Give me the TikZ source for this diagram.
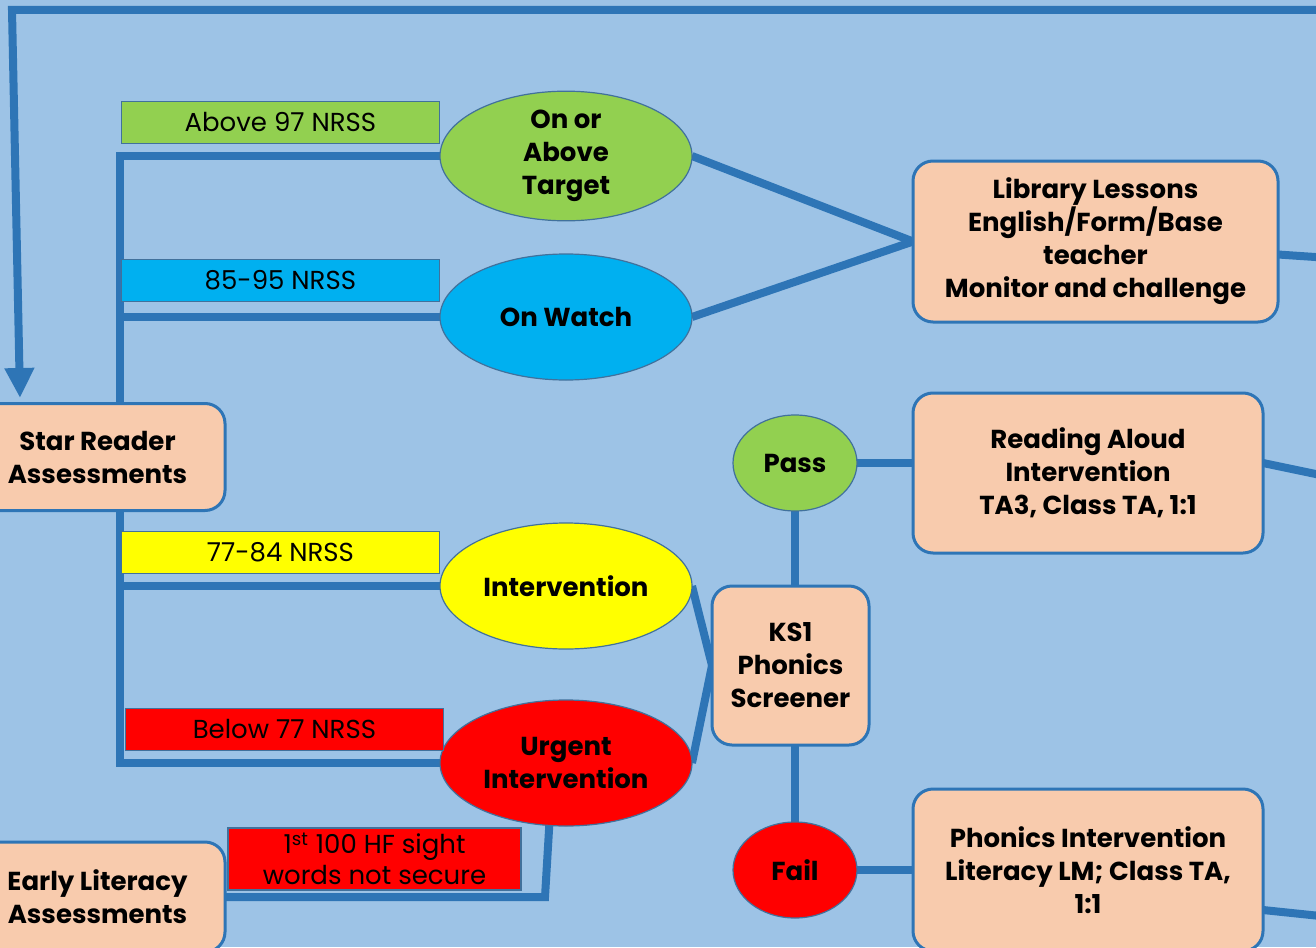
\documentclass[tikz,border=0pt]{standalone}
\usepackage{fontspec}
\setmainfont{Poppins}
\usetikzlibrary{positioning}
\usetikzlibrary{shapes.geometric}
\usetikzlibrary{arrows.meta}
\usetikzlibrary{backgrounds}

\definecolor{backblue}{HTML}{9DC3E6}
\definecolor{linkblue}{HTML}{2E75B6}
\definecolor{rimblue}{HTML}{41719C}
\definecolor{peach}{HTML}{F8CBAD}
\definecolor{okgreen}{HTML}{92D050}
\definecolor{watchblue}{HTML}{00B0F0}
\definecolor{warnyellow}{HTML}{FFFF00}
\definecolor{alertred}{HTML}{FF0000}

\pgfdeclarelayer{canvas}
\pgfsetlayers{canvas,background,main}

\newcommand{\chartfont}{\fontsize{13}{16.5}\selectfont}

\begin{document}
\begin{tikzpicture}[x=0.5pt,y=-0.5pt,
	link/.style={draw=linkblue,line width=4pt},
	outcome/.style={rectangle,rounded corners=10pt,draw=linkblue,line width=1.5pt,fill=peach,align=center,font=\chartfont\bfseries,outer sep=0pt},
	band/.style={ellipse,draw=rimblue,line width=0.6pt,minimum width=126pt,minimum height=63pt,align=center,font=\chartfont\bfseries,inner sep=0pt,outer sep=0pt},
	check/.style={ellipse,draw=rimblue,line width=0.6pt,minimum width=62pt,minimum height=48pt,font=\chartfont\bfseries,inner sep=0pt,outer sep=0pt},
	score/.style={rectangle,draw=rimblue,line width=0.6pt,minimum width=159pt,minimum height=21pt,inner sep=0pt,font=\chartfont}]
	\useasboundingbox (0,0) rectangle (1316,947);
	\begin{pgfonlayer}{canvas}
		\fill[backblue] (0,0) rectangle (1316,947);
	\end{pgfonlayer}

	% entry points
	\node [outcome,minimum width=127.5pt,minimum height=53.5pt] at (97.5,457) (star) {Star Reader\\Assessments};
	\node [outcome,minimum width=127.5pt,minimum height=55pt] at (97.5,897) (early) {Early Literacy\\Assessments};

	% score bands
	\node [band,fill=okgreen] at (566,156) (above) {On or\\Above\\Target};
	\node [band,fill=watchblue] at (566,317) (watch) {On Watch};
	\node [band,fill=warnyellow] at (566,586) (interv) {Intervention};
	\node [band,fill=alertred] at (566,763) (urgent) {Urgent\\Intervention};

	\node [score,fill=okgreen,above left=6pt and 0pt of above.west] (above_txt) {Above 97 NRSS};
	\node [score,fill=watchblue,above left=7.5pt and 0pt of watch.west] (watch_txt) {85-95 NRSS};
	\node [score,fill=warnyellow,above left=6pt and 0pt of interv.west] (interv_txt) {77-84 NRSS};
	\node [score,fill=alertred,above left=6pt and -2pt of urgent.west] (urgent_txt) {Below 77 NRSS};
	\node [score,fill=alertred,minimum width=146.5pt,minimum height=31pt,align=center,font=\fontsize{13}{15.5}\selectfont] at (374.5,859) (hf_txt) {1\textsuperscript{st} 100 HF sight\\words not secure};

	% phonics check
	\node [outcome,minimum width=78.5pt,minimum height=79.5pt] at (790.5,665.5) (ks1) {KS1\\Phonics\\Screener};
	\node [check,fill=okgreen] at (795,463) (pass) {Pass};
	\node [check,fill=alertred] at (795,870) (fail) {Fail};

	% provision
	\node [outcome,minimum width=182.5pt,minimum height=80.5pt] at (1095.5,241.5) (library) {Library Lessons\\English/Form/Base\\teacher\\Monitor and challenge};
	\node [outcome,minimum width=175pt,minimum height=80pt] at (1088,473) (reading) {Reading Aloud\\Intervention\\TA3, Class TA, 1:1};
	\node [outcome,minimum width=175pt,minimum height=81pt] at (1088,870) (phonics) {Phonics Intervention\\Literacy LM; Class TA,\\1:1};

	\coordinate (trunk) at (120,0);
	\coordinate (corner) at (12,10);
	\coordinate (loop_in) at (20,398);
	\coordinate (loop_top) at (1330,10);
	\coordinate (lib_out) at (1330,258);
	\coordinate (read_out) at (1330,477);
	\coordinate (phon_out) at (1330,917);
	\coordinate (hf_bend) at (545,897);

	\begin{scope}[on background layer]
	\draw[link,-{Triangle[length=15pt,width=14pt]}] (loop_top) -- (corner) -- (loop_in);
	\draw[link] (star.north -| trunk) |- (above.west);
	\draw[link] (trunk |- watch.west) -- (watch.west);
	\draw[link] (star.south -| trunk) |- (urgent.west);
	\draw[link] (trunk |- interv.west) -- (interv.west);
	\draw[link] (above.east) -- (library.west);
	\draw[link] (watch.east) -- (library.west);
	\draw[link] (interv.east) -- (ks1.west);
	\draw[link] (urgent.east) -- (ks1.west);
	\draw[link] (early.east |- hf_bend) -- (hf_bend) -- (urgent.255);
	\draw[link] (pass.south) -- (pass.south |- ks1.north);
	\draw[link] (ks1.south -| fail.north) -- (fail.north);
	\draw[link] (pass.east) -- (pass.east -| reading.west);
	\draw[link] (fail.east) -- (phonics.west);
	\draw[link] ([yshift=-6.5pt]library.east) -- (lib_out);
	\draw[link] ([yshift=5pt]reading.east) -- (read_out);
	\draw[link] ([yshift=-20pt]phonics.east) -- (phon_out);
	\end{scope}
\end{tikzpicture}
\end{document}
